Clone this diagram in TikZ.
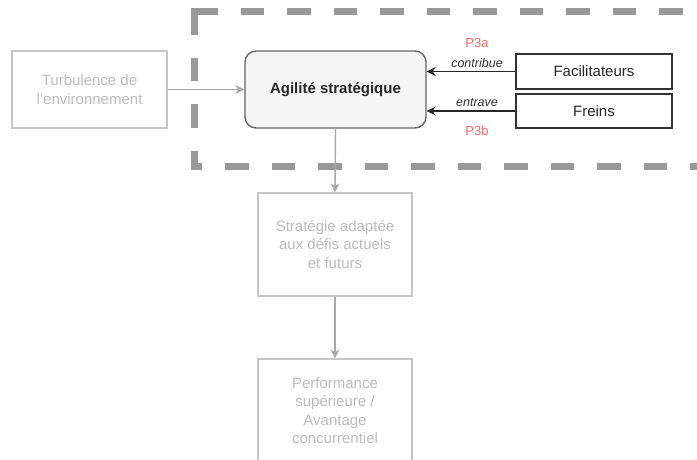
\documentclass[tikz,border=0pt]{standalone}
\usepackage{fontspec}
\setmainfont{Liberation Sans}
\usetikzlibrary{arrows.meta}
\definecolor{faded}{HTML}{BBBBBB}
\definecolor{fadedline}{HTML}{C6C6C6}
\definecolor{fadedarrow}{HTML}{A8A8A8}
\definecolor{frame}{HTML}{999999}
\definecolor{corefill}{HTML}{F5F5F5}
\definecolor{coreline}{HTML}{666666}
\definecolor{darkline}{HTML}{333333}
\definecolor{proplabel}{HTML}{F26B6B}
\tikzset{
  base/.style={rectangle, align=center, inner sep=2pt, line width=1.4pt,
    font=\fontsize{15}{18.5}\selectfont},
  fadedbox/.style={base, draw=fadedline, text=faded},
  corebox/.style={base, draw=coreline, fill=corefill, rounded corners=11pt,
    font=\fontsize{15}{18.5}\selectfont\bfseries, text=black!85},
  factorbox/.style={base, draw=darkline, text=black!85},
  fadedarr/.style={draw=fadedarrow, line width=1.4pt,
    -{Stealth[length=9pt,width=9pt,inset=3pt]}},
  darkarr/.style={draw=black!85, line width=1.4pt,
    -{Stealth[length=9pt,width=9pt,inset=3pt]}},
  verb/.style={font=\fontsize{12.5}{14}\selectfont\itshape, text=black!80},
  prop/.style={font=\fontsize{13}{15}\selectfont, text=proplabel},
  framedash/.style={draw=frame, line width=7pt,
    dash pattern=on 23.5pt off 23pt}
}
\begin{document}
\begin{tikzpicture}[x=1pt,y=-1pt]
\useasboundingbox (0,0) rectangle (697,460);

% dashed frame around the agility block (open to the right)
\draw[framedash] (194,11.5) -- (730,11.5);
\draw[framedash] (194,11.5) -- (194,166.5) -- (730,166.5);
\fill[frame] (190.5,8) rectangle (197.5,15);

% boxes
\node[fadedbox, minimum width=155pt, minimum height=77pt] (turb) at (89.5,89.5)
  {Turbulence de\\l'environnement};
\node[corebox, minimum width=181pt, minimum height=77pt] (agil) at (335.5,89.5)
  {Agilité stratégique};
\node[factorbox, minimum width=156pt, minimum height=35pt] (fac) at (594,71.5)
  {Facilitateurs};
\node[factorbox, minimum width=156pt, minimum height=34pt] (fre) at (594,111)
  {Freins};
\node[fadedbox, minimum width=154pt, minimum height=103pt] (strat) at (335,244.5)
  {Stratégie adaptée\\aux défis actuels\\et futurs};
\node[fadedbox, minimum width=154pt, minimum height=103pt] (perf) at (335,410.5)
  {Performance\\supérieure /\\Avantage\\concurrentiel};

% connectors
\draw[fadedarr] (turb.east) -- (agil.west);
\draw[fadedarr] (agil.south) -- (strat.north);
\draw[fadedarr] (strat.south) -- (perf.north);
\draw[darkarr] (fac.west) -- (agil.east |- fac.west);
\draw[darkarr] (fre.west) -- (agil.east |- fre.west);

% connector labels
\node[verb] (lcontrib) at (477,63) {contribue};
\node[verb] (lentrave) at (477,103) {entrave};
\node[prop] (lp3a) at (477,43) {P3a};
\node[prop] (lp3b) at (477,131) {P3b};
\end{tikzpicture}
\end{document}
